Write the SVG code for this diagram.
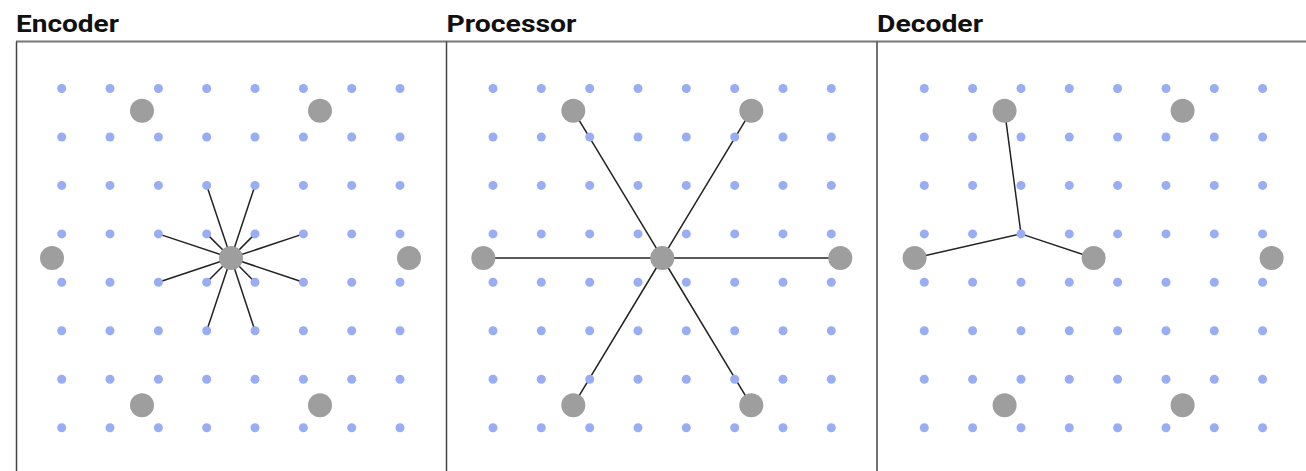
<svg xmlns="http://www.w3.org/2000/svg" xmlns:xlink="http://www.w3.org/1999/xlink" width="1306" height="471" viewBox="0 0 1306 471">
<style>
.title{font-family:Roboto,"Liberation Sans",sans-serif;font-weight:700;font-size:24px;fill:#111}
.frame{stroke:#444;stroke-width:1.5;fill:none}
.top{stroke:#777;stroke-width:2;fill:none}
.dot{fill:#99adf5}
.mesh{fill:#9e9e9e}
.edge{stroke:#222;stroke-width:1.5;fill:none}
</style>
<defs>
<circle id="d" r="4.5" class="dot"/>
<circle id="m" r="12" class="mesh"/>
<g id="grid">
<g transform="translate(0,88.5)"><use href="#d" x="61.7"/><use href="#d" x="110"/><use href="#d" x="158.4"/><use href="#d" x="206.7"/><use href="#d" x="255"/><use href="#d" x="303.4"/><use href="#d" x="351.7"/><use href="#d" x="400"/></g>
<g transform="translate(0,137)"><use href="#d" x="61.7"/><use href="#d" x="110"/><use href="#d" x="158.4"/><use href="#d" x="206.7"/><use href="#d" x="255"/><use href="#d" x="303.4"/><use href="#d" x="351.7"/><use href="#d" x="400"/></g>
<g transform="translate(0,185.4)"><use href="#d" x="61.7"/><use href="#d" x="110"/><use href="#d" x="158.4"/><use href="#d" x="206.7"/><use href="#d" x="255"/><use href="#d" x="303.4"/><use href="#d" x="351.7"/><use href="#d" x="400"/></g>
<g transform="translate(0,233.9)"><use href="#d" x="61.7"/><use href="#d" x="110"/><use href="#d" x="158.4"/><use href="#d" x="206.7"/><use href="#d" x="255"/><use href="#d" x="303.4"/><use href="#d" x="351.7"/><use href="#d" x="400"/></g>
<g transform="translate(0,282.3)"><use href="#d" x="61.7"/><use href="#d" x="110"/><use href="#d" x="158.4"/><use href="#d" x="206.7"/><use href="#d" x="255"/><use href="#d" x="303.4"/><use href="#d" x="351.7"/><use href="#d" x="400"/></g>
<g transform="translate(0,330.8)"><use href="#d" x="61.7"/><use href="#d" x="110"/><use href="#d" x="158.4"/><use href="#d" x="206.7"/><use href="#d" x="255"/><use href="#d" x="303.4"/><use href="#d" x="351.7"/><use href="#d" x="400"/></g>
<g transform="translate(0,379.2)"><use href="#d" x="61.7"/><use href="#d" x="110"/><use href="#d" x="158.4"/><use href="#d" x="206.7"/><use href="#d" x="255"/><use href="#d" x="303.4"/><use href="#d" x="351.7"/><use href="#d" x="400"/></g>
<g transform="translate(0,427.7)"><use href="#d" x="61.7"/><use href="#d" x="110"/><use href="#d" x="158.4"/><use href="#d" x="206.7"/><use href="#d" x="255"/><use href="#d" x="303.4"/><use href="#d" x="351.7"/><use href="#d" x="400"/></g>
</g>
</defs>
<rect width="1306" height="471" fill="#fff"/>
<g id="frames">
<line class="top" x1="16" y1="41.5" x2="1306" y2="41.5"/>
<line class="frame" x1="16.5" y1="41.5" x2="16.5" y2="471"/>
<line class="frame" x1="446.5" y1="41.5" x2="446.5" y2="471"/>
<line class="frame" x1="877" y1="41.5" x2="877" y2="471"/>
</g>
<g id="titles">
<text class="title" x="16" y="31.5" textLength="103" lengthAdjust="spacingAndGlyphs">Encoder</text>
<text class="title" x="446.5" y="31.5" textLength="130" lengthAdjust="spacingAndGlyphs">Processor</text>
<text class="title" x="877" y="31.5" textLength="106" lengthAdjust="spacingAndGlyphs">Decoder</text>
</g>
<g id="connectors">
<g id="encoder-edges">
<line class="edge" x1="231" y1="258" x2="206.7" y2="185.4"/>
<line class="edge" x1="231" y1="258" x2="255" y2="185.4"/>
<line class="edge" x1="231" y1="258" x2="158.4" y2="233.9"/>
<line class="edge" x1="231" y1="258" x2="303.4" y2="233.9"/>
<line class="edge" x1="231" y1="258" x2="158.4" y2="282.3"/>
<line class="edge" x1="231" y1="258" x2="303.4" y2="282.3"/>
<line class="edge" x1="231" y1="258" x2="206.7" y2="330.8"/>
<line class="edge" x1="231" y1="258" x2="255" y2="330.8"/>
<line class="edge" x1="231" y1="258" x2="206.7" y2="233.9"/>
<line class="edge" x1="231" y1="258" x2="255" y2="233.9"/>
<line class="edge" x1="231" y1="258" x2="206.7" y2="282.3"/>
<line class="edge" x1="231" y1="258" x2="255" y2="282.3"/>
</g>
<g id="processor-edges">
<line class="edge" x1="662.3" y1="258" x2="573.3" y2="110.7"/>
<line class="edge" x1="662.3" y1="258" x2="751.3" y2="110.7"/>
<line class="edge" x1="662.3" y1="258" x2="483.3" y2="258"/>
<line class="edge" x1="662.3" y1="258" x2="840.3" y2="258"/>
<line class="edge" x1="662.3" y1="258" x2="573.3" y2="405.3"/>
<line class="edge" x1="662.3" y1="258" x2="751.3" y2="405.3"/>
</g>
<g id="decoder-edges">
<line class="edge" x1="1021" y1="233.9" x2="1004.6" y2="110.7"/>
<line class="edge" x1="1021" y1="233.9" x2="914.6" y2="258"/>
<line class="edge" x1="1021" y1="233.9" x2="1093.6" y2="258"/>
</g>
</g>
<g id="grid-nodes">
<use href="#grid"/>
<use href="#grid" transform="translate(431.3,0)"/>
<use href="#grid" transform="translate(862.6,0)"/>
</g>
<g id="encoder-mesh">
<g id="enc-n1"><use href="#m" x="142" y="110.7"/></g>
<g id="enc-n2"><use href="#m" x="320" y="110.7"/></g>
<g id="enc-n3"><use href="#m" x="52" y="258"/></g>
<g id="enc-n4"><use href="#m" x="231" y="258"/></g>
<g id="enc-n5"><use href="#m" x="409" y="258"/></g>
<g id="enc-n6"><use href="#m" x="142" y="405.3"/></g>
<g id="enc-n7"><use href="#m" x="320" y="405.3"/></g>
</g>
<g id="processor-mesh">
<g id="proc-n1"><use href="#m" x="573.3" y="110.7"/></g>
<g id="proc-n2"><use href="#m" x="751.3" y="110.7"/></g>
<g id="proc-n3"><use href="#m" x="483.3" y="258"/></g>
<g id="proc-n4"><use href="#m" x="662.3" y="258"/></g>
<g id="proc-n5"><use href="#m" x="840.3" y="258"/></g>
<g id="proc-n6"><use href="#m" x="573.3" y="405.3"/></g>
<g id="proc-n7"><use href="#m" x="751.3" y="405.3"/></g>
</g>
<g id="decoder-mesh">
<g id="dec-n1"><use href="#m" x="1004.6" y="110.7"/></g>
<g id="dec-n2"><use href="#m" x="1182.6" y="110.7"/></g>
<g id="dec-n3"><use href="#m" x="914.6" y="258"/></g>
<g id="dec-n4"><use href="#m" x="1093.6" y="258"/></g>
<g id="dec-n5"><use href="#m" x="1271.6" y="258"/></g>
<g id="dec-n6"><use href="#m" x="1004.6" y="405.3"/></g>
<g id="dec-n7"><use href="#m" x="1182.6" y="405.3"/></g>
</g>
</svg>
